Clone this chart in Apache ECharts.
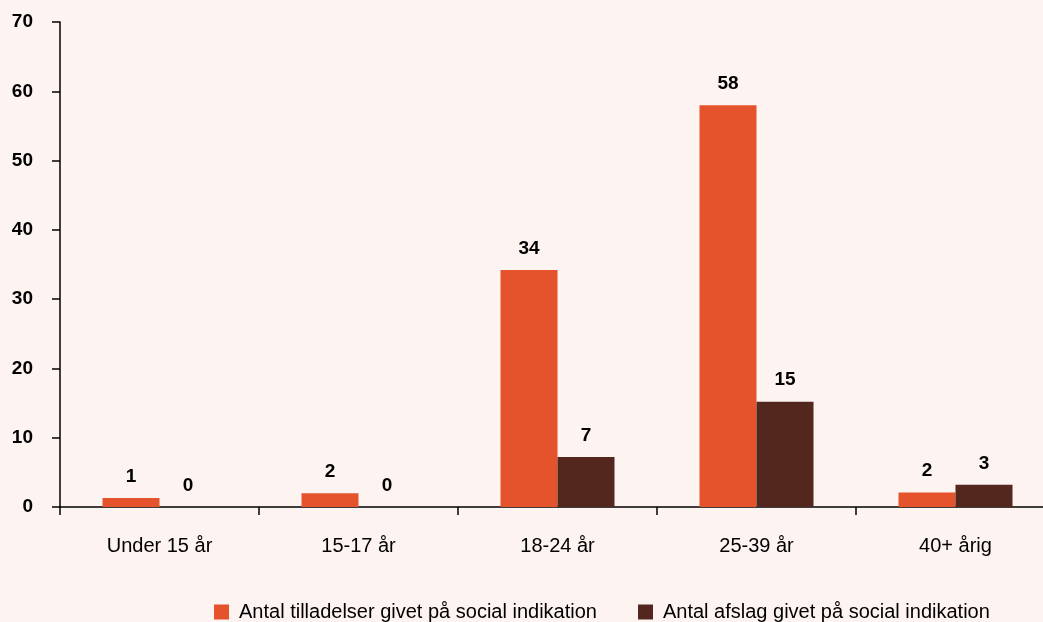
<!DOCTYPE html>
<html><head><meta charset="utf-8">
<script src="https://cdn.jsdelivr.net/npm/echarts@6/dist/echarts.min.js"></script>
<style>html,body{margin:0;padding:0;background:#fdf4f1;}#c{width:1043px;height:622px;}</style>
</head><body><div id="c"></div>
<script>
const categories = ['Under 15 år', '15-17 år', '18-24 år', '25-39 år', '40+ årig'];
const seriesNames = ['Antal tilladelser givet på social indikation', 'Antal afslag givet på social indikation'];
const permits = [1.3, 2.0, 34.2, 58.0, 2.1];
const refusals = [0, 0, 7.2, 15.2, 3.2];
const yTicks = [0, 10, 20, 30, 40, 50, 60, 70];

const chart = echarts.init(document.getElementById('c'));
const font = 'Liberation Sans, Arial, sans-serif';
const lbl = {
  show: true, position: 'top', distance: 12,
  fontFamily: font, fontSize: 19, fontWeight: 'bold', color: '#000',
  formatter: p => Math.round(p.value)
};
chart.setOption({
  backgroundColor: '#fdf4f1',
  animation: false,
  grid: { left: 60, top: 22, right: -12, bottom: 115, outerBoundsMode: 'none', containLabel: false },
  legend: {
    left: 209, top: 597, itemWidth: 15, itemHeight: 15, itemGap: 41,
    icon: 'rect',
    textStyle: { fontFamily: font, fontSize: 20, color: '#000', padding: [0, 0, 0, 5] },
    data: seriesNames
  },
  xAxis: {
    type: 'category', data: categories,
    axisLine: { lineStyle: { color: '#000', width: 1.5 } },
    axisTick: { show: true, length: 8, lineStyle: { color: '#000', width: 1.5 } },
    axisLabel: { fontFamily: font, fontSize: 20, color: '#000', margin: 29 }
  },
  yAxis: {
    type: 'value', min: yTicks[0], max: yTicks[yTicks.length - 1], interval: 10,
    splitLine: { show: false },
    axisLine: { show: true, lineStyle: { color: '#000', width: 1.5 } },
    axisTick: { show: true, length: 8, lineStyle: { color: '#000', width: 1.5 } },
    axisLabel: { fontFamily: font, fontSize: 19, fontWeight: 'bold', color: '#000', margin: 27 }
  },
  series: [
    { name: seriesNames[0], type: 'bar', data: permits, barWidth: 57, barGap: '0%',
      itemStyle: { color: '#e5532d' }, label: lbl },
    { name: seriesNames[1], type: 'bar', data: refusals, barWidth: 57, barGap: '0%',
      itemStyle: { color: '#53261e' }, label: lbl }
  ]
});
</script></body></html>
